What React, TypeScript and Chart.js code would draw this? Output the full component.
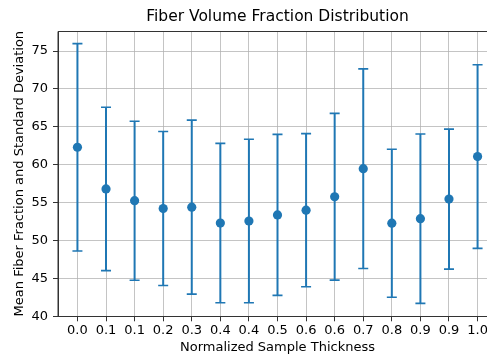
import React, { useEffect, useRef } from "react";
import { Chart, registerables } from "chart.js";

Chart.register(...registerables);

const tickLabels = ["0.0", "0.1", "0.1", "0.2", "0.3", "0.4", "0.4", "0.5", "0.6", "0.6", "0.7", "0.8", "0.9", "0.9", "1.0"];
const means = [62.3, 56.8, 55.25, 54.22, 54.4, 52.3, 52.57, 53.38, 54.0, 55.77, 59.47, 52.28, 52.88, 55.46, 61.07];
const stds = [13.68, 10.78, 10.49, 10.16, 11.48, 10.51, 10.78, 10.62, 10.1, 11.0, 13.17, 9.76, 11.17, 9.24, 12.11];
const yTicks = [40, 45, 50, 55, 60, 65, 70, 75];
const chartTitle = "Fiber Volume Fraction Distribution";
const xTitle = "Normalized Sample Thickness";
const yTitle = "Mean Fiber Fraction and Standard Deviation";

const BLUE = "#1f77b4";
const FONT = "'DejaVu Sans', sans-serif";
const X_MIN = -0.68;
const X_MAX = 14.33;
const X_AXES_END = 14.68;

export default function App() {
  const ref = useRef<HTMLCanvasElement | null>(null);

  useEffect(() => {
    if (!ref.current) return;
    const errorBars = {
      id: "errorBars",
      beforeDatasetsDraw(chart: any) {
        const { ctx, scales } = chart;
        const xs = scales.x;
        const ys = scales.y;
        ctx.save();
        ctx.strokeStyle = BLUE;
        means.forEach((m, i) => {
          const px = xs.getPixelForValue(i);
          const top = ys.getPixelForValue(m + stds[i]);
          const bot = ys.getPixelForValue(m - stds[i]);
          ctx.lineWidth = 2;
          ctx.beginPath();
          ctx.moveTo(px, top);
          ctx.lineTo(px, bot);
          ctx.stroke();
          ctx.lineWidth = 1.6;
          ctx.beginPath();
          ctx.moveTo(px - 5, top);
          ctx.lineTo(px + 5, top);
          ctx.moveTo(px - 5, bot);
          ctx.lineTo(px + 5, bot);
          ctx.stroke();
        });
        ctx.restore();
      },
      afterDraw(chart: any) {
        const { ctx, chartArea, scales } = chart;
        ctx.save();
        ctx.strokeStyle = "#333";
        ctx.lineWidth = 1;
        ctx.beginPath();
        ctx.moveTo(chartArea.left, chartArea.bottom);
        ctx.lineTo(chartArea.left, chartArea.top + 0.5);
        ctx.lineTo(chartArea.right, chartArea.top + 0.5);
        ctx.stroke();
        // titles centred over the full (cropped) axes span
        const cx = (chartArea.left + scales.x.getPixelForValue(X_AXES_END)) / 2;
        ctx.fillStyle = "#000";
        ctx.textAlign = "center";
        ctx.textBaseline = "middle";
        ctx.font = `15.5px ${FONT}`;
        ctx.fillText(chartTitle, cx, 16.8);
        ctx.font = `13px ${FONT}`;
        ctx.fillText(xTitle, cx, 348);
        ctx.restore();
      },
    };

    const chart = new Chart(ref.current, {
      type: "scatter",
      data: {
        datasets: [
          {
            data: means.map((m, i) => ({ x: i, y: m })),
            backgroundColor: BLUE,
            borderColor: BLUE,
            pointRadius: 4.6,
            pointHoverRadius: 4.6,
            borderWidth: 0,
          },
        ],
      },
      options: {
        responsive: false,
        animation: false,
        layout: { autoPadding: false, padding: { left: 0, right: 0, top: 31, bottom: 0 } },
        plugins: {
          legend: { display: false },
          tooltip: { enabled: false },
          title: { display: false },
        },
        scales: {
          x: {
            type: "linear",
            min: X_MIN,
            max: X_MAX,
            afterBuildTicks: (s: any) => {
              s.ticks = tickLabels.map((_, i) => ({ value: i }));
            },
            afterFit: (s: any) => {
              s.height = 43.7;
              s.paddingLeft = 0;
              s.paddingRight = 0;
            },
            ticks: {
              color: "#000",
              font: { family: FONT, size: 13 },
              padding: 2,
              maxRotation: 0,
              autoSkip: false,
              callback: (v: any) => tickLabels[Math.round(v)] ?? "",
            },
            grid: {
              color: "rgba(176,176,176,0.75)",
              lineWidth: 1,
              tickColor: "#333",
              tickLength: 5,
            },
            border: { display: true, color: "#333", width: 1 },
            title: { display: false },
          },
          y: {
            type: "linear",
            min: 40,
            max: 77.64,
            afterBuildTicks: (s: any) => {
              s.ticks = yTicks.map((v) => ({ value: v }));
            },
            afterFit: (s: any) => {
              s.width = 58;
              s.paddingTop = 0;
              s.paddingBottom = 0;
            },
            ticks: {
              color: "#000",
              font: { family: FONT, size: 13 },
              padding: 5,
            },
            grid: {
              color: "rgba(176,176,176,0.75)",
              lineWidth: 1,
              tickColor: "#333",
              tickLength: 5,
            },
            border: { display: true, color: "#333", width: 1 },
            title: {
              display: true,
              text: yTitle,
              color: "#000",
              font: { family: FONT, size: 13 },
              padding: { top: 12.2, bottom: 0 },
            },
          },
        },
      },
      plugins: [errorBars],
    });
    return () => chart.destroy();
  }, []);

  return (
    <div style={{ position: "absolute", left: 0, top: 0, width: 487, height: 360, background: "#fff" }}>
      <canvas ref={ref} width={487} height={360} style={{ display: "block", width: 487, height: 360 }} />
    </div>
  );
}
